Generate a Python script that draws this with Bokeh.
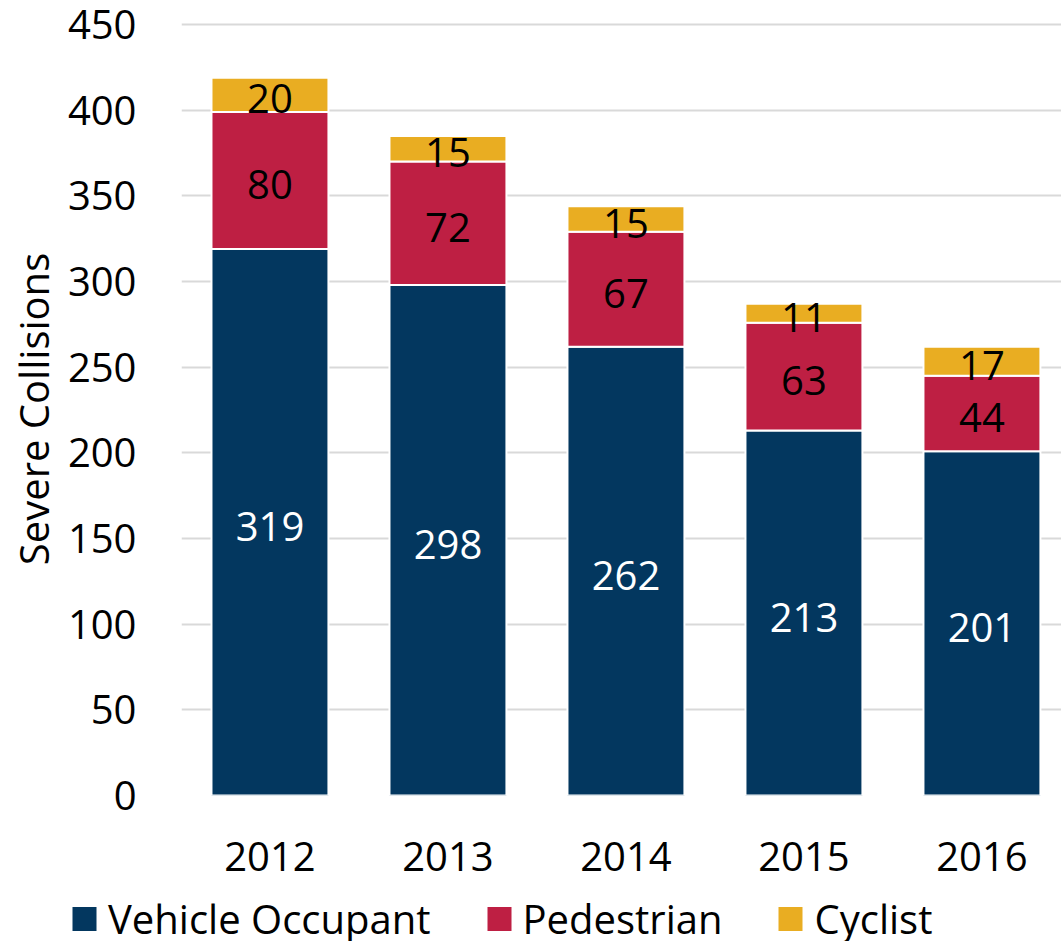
from bokeh.plotting import figure
from bokeh.models import ColumnDataSource, Range1d, FixedTicker, Legend, LegendItem
from bokeh.embed import file_html
from bokeh.resources import INLINE
from bokeh.core.properties import value

years = ["2012", "2013", "2014", "2015", "2016"]
vehicle = [319, 298, 262, 213, 201]
pedestrian = [80, 72, 67, 63, 44]
cyclist = [20, 15, 15, 11, 17]
series = ["Vehicle Occupant", "Pedestrian", "Cyclist"]
colors = ["#03375f", "#be1f43", "#e9ad22"]
y_ticks = [0, 50, 100, 150, 200, 250, 300, 350, 400, 450]

FONT = "Open Sans"
FS = "40px"

xs = list(range(len(years)))
src = ColumnDataSource(dict(x=xs, veh=vehicle, ped=pedestrian, cyc=cyclist))

p = figure(width=1061, height=895, output_backend="svg", toolbar_location=None,
           x_range=Range1d(-0.497, 4.447), y_range=Range1d(0, 451.2),
           min_border_left=181, min_border_right=0, min_border_top=22,
           min_border_bottom=100)
p.outline_line_color = None

p.vbar_stack(["veh", "ped", "cyc"], x="x", width=0.657, source=src,
             color=colors, line_color="white", line_width=2)

# value labels centred in each segment
cx, cy, txt, tcol = [], [], [], []
for i in range(len(years)):
    b = 0
    for vals, c in ((vehicle, "white"), (pedestrian, "black"), (cyclist, "black")):
        v = vals[i]
        cx.append(i)
        cy.append(b + v / 2)
        txt.append(str(v))
        tcol.append(c)
        b += v
p.text(x=cx, y=cy, text=txt, text_color=tcol, text_align="center",
       text_baseline="middle", y_offset=4, text_font=value(FONT), text_font_size=FS)

# axes
p.xaxis.ticker = FixedTicker(ticks=xs)
p.xaxis.major_label_overrides = {i: y for i, y in enumerate(years)}
p.yaxis.ticker = FixedTicker(ticks=y_ticks)
for ax in (p.xaxis[0], p.yaxis[0]):
    ax.axis_line_color = None
    ax.major_tick_line_color = None
    ax.minor_tick_line_color = None
    ax.major_tick_out = 0
    ax.major_tick_in = 0
    ax.major_label_text_font = FONT
    ax.major_label_text_font_size = FS
    ax.major_label_text_color = "black"
p.xaxis.major_label_standoff = 46
p.yaxis.major_label_standoff = 45
p.yaxis.axis_label = "Severe Collisions"
p.yaxis.axis_label_text_font = FONT
p.yaxis.axis_label_text_font_size = "40px"
p.yaxis.axis_label_text_font_style = "normal"
p.yaxis.axis_label_text_color = "black"
p.yaxis.axis_label_standoff = 4

p.xgrid.grid_line_color = None
p.ygrid.grid_line_color = "#d9d9d9"
p.ygrid.grid_line_width = 2
p.ygrid.level = "underlay"

# legend strip below the chart (separate root, frame spans full width)
q = figure(width=1061, height=46, output_backend="svg", toolbar_location=None,
           x_range=Range1d(0, 1), y_range=Range1d(0, 1),
           min_border=0, min_border_left=0, min_border_right=0,
           min_border_top=0, min_border_bottom=0)
q.outline_line_color = None
q.axis.visible = False
q.grid.visible = False
# zero-height stand-ins: only their legend swatches are drawn
dummies = [q.vbar(x=[0.5], top=[0], bottom=[0], width=0.1, fill_color=c, line_color=None)
           for c in colors]
legend = Legend(items=[LegendItem(label=s, renderers=[r]) for s, r in zip(series, dummies)],
                orientation="horizontal", location="left",
                label_text_font=FONT, label_text_font_size=FS,
                label_text_color="black",
                glyph_width=30, glyph_height=30, label_standoff=9, spacing=53,
                padding=0, margin=69, border_line_color=None,
                background_fill_alpha=0)
q.add_layout(legend, "center")

open("out.html", "w").write(file_html([p, q], INLINE))
